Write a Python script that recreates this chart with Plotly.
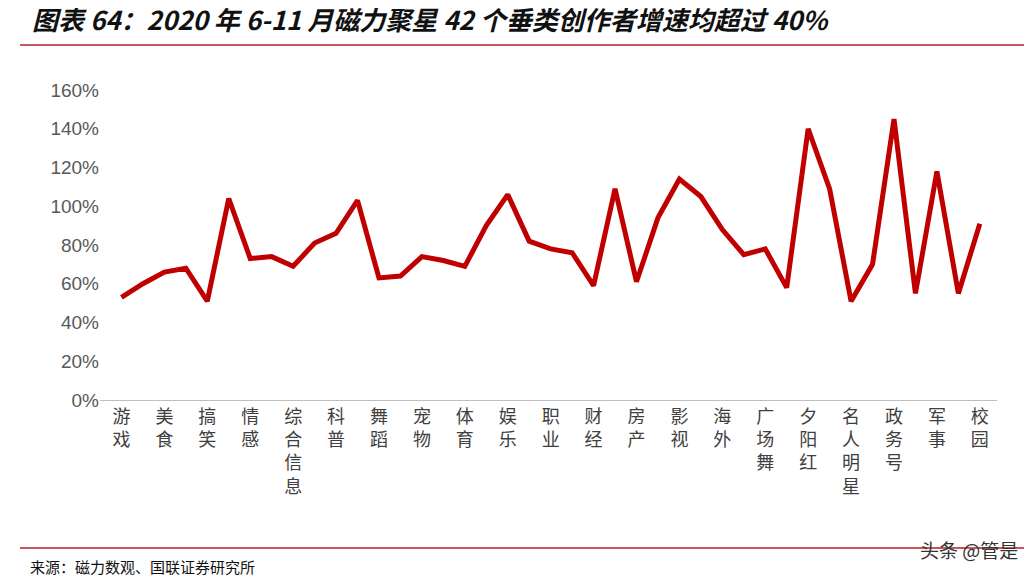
import plotly.graph_objects as go

labels = ["游戏","美食","搞笑","情感","综合信息","科普","舞蹈","宠物","体育","娱乐","职业",
          "财经","房产","影视","海外","广场舞","夕阳红","名人明星","政务号","军事","校园"]
values = [53,60,66,68,51,104,73,74,69,81,86,103,63,64,74,72,69,90,106,82,78,76,59,109,61,
          94,114,105,88,75,78,58,140,109,51,70,145,55,118,55,91]
y_ticks = [0,20,40,60,80,100,120,140,160]

x = list(range(len(values)))
fig = go.Figure(go.Scatter(x=x, y=values, mode="lines",
                           line=dict(color="#C00000", width=5), hoverinfo="skip"))
fig.update_layout(
    width=1032, height=581, paper_bgcolor="white", plot_bgcolor="white",
    margin=dict(l=92, r=43, t=82, b=189), showlegend=False,
    font=dict(family="Noto Sans CJK SC", color="#595959"),
)
fig.update_xaxes(range=[-1, len(values)-0.2], tickvals=x[::2],
                 ticktext=["<br>".join(l) for l in labels], tickangle=0,
                 tickfont=dict(size=18, color="#404040"), showgrid=False,
                 showline=True, linecolor="#BFBFBF", linewidth=1, ticks="", zeroline=False)
fig.update_yaxes(range=[0, 160], tickvals=y_ticks, ticktext=[f"{v}%" for v in y_ticks],
                 tickfont=dict(size=19, color="#595959", family="Liberation Sans"),
                 showgrid=False, zeroline=False, showline=False)
H = 310.0
def py(p):  # pixel y (reference) to paper
    return (400 - p) / H
W = 1032 - 92 - 43.0
def px(p):
    return (p - 92) / W
fig.add_annotation(xref="paper", yref="paper", x=px(22), y=py(18), xanchor="left", yanchor="middle",
                   text="<b><i>图表 64：2020 年 6-11 月磁力聚星 42 个垂类创作者增速均超过 40%</i></b>",
                   showarrow=False, font=dict(size=26, color="#111111", family="Noto Sans CJK SC"))
fig.add_shape(type="line", xref="paper", yref="paper", x0=px(12), x1=px(1022), y0=py(45), y1=py(45),
              line=dict(color="#B22222", width=1.5))
fig.add_shape(type="line", xref="paper", yref="paper", x0=px(12), x1=px(1022), y0=py(548), y1=py(548),
              line=dict(color="#B22222", width=1.5))
fig.add_annotation(xref="paper", yref="paper", x=px(20), y=py(566), xanchor="left", yanchor="middle",
                   text="来源：磁力数观、国联证券研究所", showarrow=False,
                   font=dict(size=15, color="#111111"))
fig.add_annotation(xref="paper", yref="paper", x=px(1012), y=py(549), xanchor="right", yanchor="middle",
                   text="头条 @管是", showarrow=False, font=dict(size=19, color="#333333"))
fig.write_html("out.html")
